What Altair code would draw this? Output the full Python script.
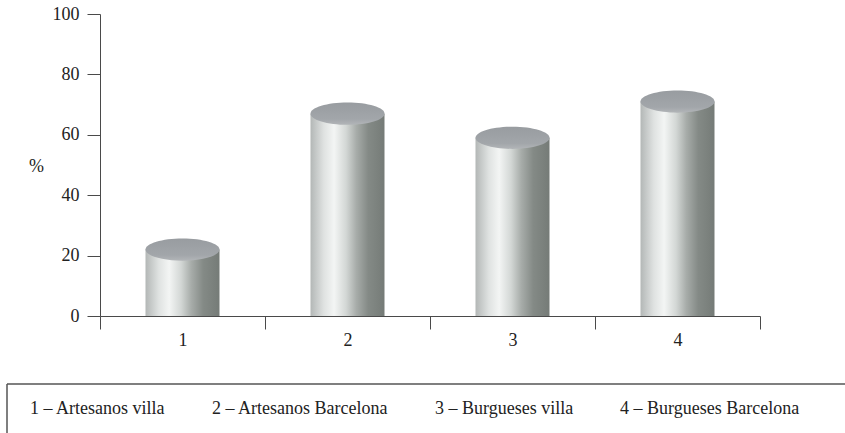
import altair as alt
import pandas as pd

# ---- data ----
categories = ["1", "2", "3", "4"]
group_names = ["Artesanos villa", "Artesanos Barcelona", "Burgueses villa", "Burgueses Barcelona"]
percent = [22, 67, 59, 71]
y_ticks = [0, 20, 40, 60, 80, 100]

legend_labels = [f"{c} \u2013 {n}" for c, n in zip(categories, group_names)]
df = pd.DataFrame({"cat": categories, "value": percent, "label": legend_labels})

FONT = "Liberation Serif"
FS = 18
W, H = 660, 302
BAR_W = 74

ELLIPSE = ("M -1 0 C -1 -0.1657 -0.5523 -0.3 0 -0.3 C 0.5523 -0.3 1 -0.1657 1 0 "
           "C 1 0.1657 0.5523 0.3 0 0.3 C -0.5523 0.3 -1 0.1657 -1 0 Z")

side_grad = alt.Gradient(
    gradient="linear", x1=0, x2=1, y1=0, y2=0,
    stops=[
        alt.GradientStop(color="#b3b7b6", offset=0.0),
        alt.GradientStop(color="#dfe2e1", offset=0.18),
        alt.GradientStop(color="#f3f5f4", offset=0.32),
        alt.GradientStop(color="#d3d7d5", offset=0.48),
        alt.GradientStop(color="#a7aca9", offset=0.62),
        alt.GradientStop(color="#848a86", offset=0.78),
        alt.GradientStop(color="#757b77", offset=1.0),
    ],
)
top_grad = alt.Gradient(
    gradient="linear", x1=0, x2=0, y1=0, y2=1,
    stops=[
        alt.GradientStop(color="#989ca0", offset=0.0),
        alt.GradientStop(color="#a2a6aa", offset=0.75),
        alt.GradientStop(color="#b2b5b8", offset=1.0),
    ],
)

x_enc = alt.X(
    "cat:N",
    sort=categories,
    scale=alt.Scale(type="band", paddingInner=0, paddingOuter=0),
    axis=alt.Axis(
        title=None, labelAngle=0, tickBand="extent", tickSize=13, grid=False,
        labelPadding=2, domainColor="#4a4a4a", tickColor="#4a4a4a",
        labelFont=FONT, labelFontSize=FS, labelColor="#222222",
    ),
)
y_enc = alt.Y(
    "value:Q",
    scale=alt.Scale(domain=[0, 100], nice=False),
    axis=alt.Axis(
        values=y_ticks, title="%", titleAngle=0, titleX=-64, titleY=152,
        titleAlign="center", titleBaseline="middle", titleFont=FONT,
        titleFontSize=FS, titleFontWeight="normal", titleColor="#222222",
        tickSize=13, labelPadding=8, grid=False,
        domainColor="#4a4a4a", tickColor="#4a4a4a",
        labelFont=FONT, labelFontSize=FS, labelColor="#222222",
    ),
)

bars = alt.Chart(df).mark_bar(size=BAR_W, color=side_grad).encode(x=x_enc, y=y_enc)

tops = alt.Chart(df).mark_point(
    filled=True, size=BAR_W * BAR_W, color=top_grad, opacity=1, strokeWidth=0
).encode(
    x=alt.X("cat:N", sort=categories),
    y=alt.Y("value:Q"),
    shape=alt.Shape(
        "label:N",
        scale=alt.Scale(domain=legend_labels, range=[ELLIPSE] * len(legend_labels)),
        legend=alt.Legend(
            title=None, orient="none", legendX=-88, legendY=386,
            direction="horizontal", columns=4, columnPadding=28,
            symbolSize=0, symbolOpacity=0, symbolStrokeWidth=0, labelOffset=0,
            padding=0, labelFont=FONT, labelFontSize=FS, labelColor="#222222",
            labelLimit=400,
        ),
    ),
)

box_top = alt.Chart(alt.Data(values=[{}])).mark_rule(color="#555555", strokeWidth=1.5).encode(
    x=alt.value(-93), x2=alt.value(760), y=alt.value(370)
)
box_left = alt.Chart(alt.Data(values=[{}])).mark_rule(color="#555555", strokeWidth=1.5).encode(
    x=alt.value(-93), y=alt.value(370), y2=alt.value(440)
)

chart = alt.layer(bars, tops, box_top, box_left).properties(
    width=W, height=H,
    background="white",
    autosize=alt.AutoSizeParams(type="none"),
    padding={"left": 100, "top": 14, "right": 85, "bottom": 117},
).configure_view(strokeWidth=0).configure_axis(grid=False)

chart.save("out.html", embed_options={"renderer": "svg", "actions": False})
